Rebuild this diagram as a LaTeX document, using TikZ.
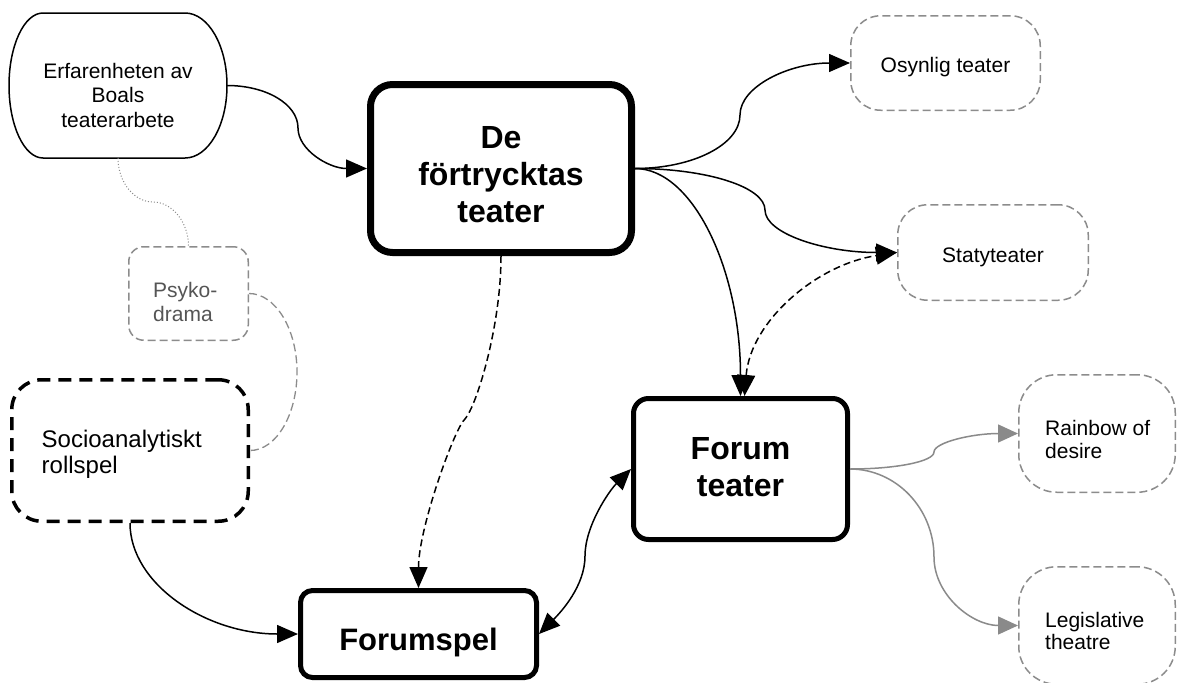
\documentclass[tikz,border=0pt]{standalone}
\usepackage{fontspec}
\setmainfont{Liberation Sans}
\usetikzlibrary{arrows.meta}
\definecolor{boxgray}{HTML}{8C8C8C}
\definecolor{linegray}{HTML}{8A8A8A}
\definecolor{txtgray}{HTML}{555555}
\newcommand{\mylines}[2]{\begin{tabular}[t]{@{}#1@{}}#2\end{tabular}}
\begin{document}
\begin{tikzpicture}[x=1pt,y=-1pt,
  every node/.style={inner sep=0pt},
  ntext/.style={font={\fontsize{21}{23.5}\selectfont}},
  btext/.style={font={\fontsize{32}{37}\selectfont\bfseries}},
  stext/.style={font={\fontsize{24}{26}\selectfont}},
  graybox/.style={draw=boxgray, fill=white, line width=1.5pt, dash pattern=on 8pt off 4pt},
  conn/.style={draw=black, line width=1.5pt, -{Triangle[length=21pt,width=18pt]}},
  dconn/.style={conn, dash pattern=on 7pt off 4pt},
  ddconn/.style={draw=black, line width=1.5pt, dash pattern=on 7pt off 4pt,
    {Triangle[length=21pt,width=18pt]}-{Triangle[length=21pt,width=18pt]}},
  biconn/.style={draw=black, line width=1.5pt,
    {Triangle[length=21pt,width=18pt]}-{Triangle[length=21pt,width=18pt]}},
  gconn/.style={draw=linegray, line width=1.5pt, -{Triangle[length=20pt,width=18pt]}},
  gdash/.style={draw=boxgray, line width=1.3pt, dash pattern=on 8pt off 4pt},
  dotconn/.style={draw=boxgray, line width=1pt, dash pattern=on 1pt off 2pt},
]
\fill[white] (0,0) rectangle (1179,683);
\useasboundingbox (0,0) rectangle (1179,683);

% boxes
\node[minimum width=218pt, minimum height=145pt, outer sep=0pt] (erf) at (118,85.5) {};
\draw[line width=1.5pt, fill=white] (43,13) -- (185,13)
  .. controls (208.2,13) and (227,45.5) .. (227,85.5)
  .. controls (227,125.5) and (208.2,158) .. (185,158)
  -- (43,158)
  .. controls (24.2,158) and (9,125.5) .. (9,85.5)
  .. controls (9,45.5) and (24.2,13) .. (43,13) -- cycle;

\node[draw, fill=white, line width=7pt, rounded corners=22pt, minimum width=261pt, minimum height=168pt] (de) at (501,168.5) {};
\node[graybox, rounded corners=15pt, minimum width=119.5pt, minimum height=93.5pt] (psy) at (188.5,293.5) {};
\node[draw, fill=white, line width=3.5pt, dash pattern=on 13pt off 8pt, rounded corners=30pt, minimum width=236.5pt, minimum height=141.5pt] (socio) at (130,450.5) {};
\node[draw, fill=white, line width=5pt, rounded corners=12pt, minimum width=236pt, minimum height=87pt] (fs) at (418.5,634) {};
\node[draw, fill=white, line width=5pt, rounded corners=15pt, minimum width=214pt, minimum height=141pt] (ft) at (740.5,469) {};
\node[graybox, rounded corners=30pt, minimum width=189.5pt, minimum height=94.5pt] (osy) at (945.5,63) {};
\node[graybox, rounded corners=30pt, minimum width=190.5pt, minimum height=95.5pt] (staty) at (993,252.5) {};
\node[graybox, rounded corners=38pt, minimum width=156.5pt, minimum height=117.5pt] (rb) at (1097,433.5) {};
\node[graybox, rounded corners=38pt, minimum width=156.5pt, minimum height=117.5pt] (leg) at (1097,625.5) {};

% connectors
\draw[conn] (erf.east) .. controls +(39,0) and +(0,-24) .. (298,128) .. controls +(0,22) and +(-38,0) .. (de.west);
\draw[conn] (de.east) .. controls +(58,0) and +(0,29.5) .. (740,115) .. controls +(0,-28.5) and +(-61,0) .. (osy.west);
\draw[conn] (de.east) .. controls +(72,0) and +(0,-23) .. (765,210) .. controls +(0,23.5) and +(-73,0) .. (staty.west);
\draw[conn] (de.east) .. controls +(58,0) and +(0,-126) .. (ft.north);
\draw[ddconn] ([xshift=4pt]ft.north) .. controls +(6,-75) and +(-80,12) .. (staty.west);
\draw[dconn] (de.south) .. controls +(0,70) and +(12,-14) .. (465,419) .. controls +(-10,8) and +(0,-60) .. (fs.north);
\draw[conn] (socio.south) .. controls +(0,61) and +(-92,0) .. (fs.west);
\draw[biconn] (fs.east) .. controls +(22,-22) and +(0,30) .. (585,556) .. controls +(0,-30) and +(-22,22) .. (ft.west);
\draw[gconn] (ft.east) .. controls +(46,0) and +(0,9.5) .. (934,452) .. controls +(0,-9.5) and +(-46,0) .. (rb.west);
\draw[gconn] (ft.east) .. controls +(46,0) and +(0,-48.6) .. (934,557) .. controls +(0,38) and +(-46,0) .. (leg.west);
\draw[dotconn] (erf.south) .. controls +(0,24) and +(-19,0) .. (153,202) .. controls +(19,0) and +(0,-24) .. (psy.north);
\draw[gdash] (psy.east) .. controls +(26.5,0) and +(0,-43) .. (297,372) .. controls +(0,43) and +(26,0) .. (socio.east);

% texts
\node[ntext, font={\fontsize{21}{24.5}\selectfont}, anchor=base] (erfT) at (118,78) {\mylines{c}{Erfarenheten av\\Boals\\teaterarbete}};
\node[btext, anchor=base] (deT) at (501,148) {\mylines{c}{De\\förtrycktas\\teater}};
\node[ntext, font={\fontsize{21}{24}\selectfont}, anchor=base west, text=txtgray] (psyT) at (153,297) {\mylines{l}{Psyko-\\drama}};
\node[stext, anchor=base west] (socT) at (41.5,447) {\mylines{l}{Socioanalytiskt\\rollspel}};
\node[btext, font={\fontsize{31}{36}\selectfont\bfseries}, anchor=base] (fsT) at (418.5,650) {Forumspel};
\node[btext, anchor=base] (ftT) at (740.5,459) {\mylines{c}{Forum\\teater}};
\node[ntext, anchor=base] (osyT) at (945.5,72) {Osynlig teater};
\node[ntext, anchor=base] (statT) at (993,262) {Statyteater};
\node[ntext, font={\fontsize{21}{22.5}\selectfont}, anchor=base west] (rbT) at (1045,435.5) {\mylines{l}{Rainbow of\\desire}};
\node[ntext, font={\fontsize{21}{22.5}\selectfont}, anchor=base west] (legT) at (1045,627) {\mylines{l}{Legislative\\theatre}};
\end{tikzpicture}
\end{document}
